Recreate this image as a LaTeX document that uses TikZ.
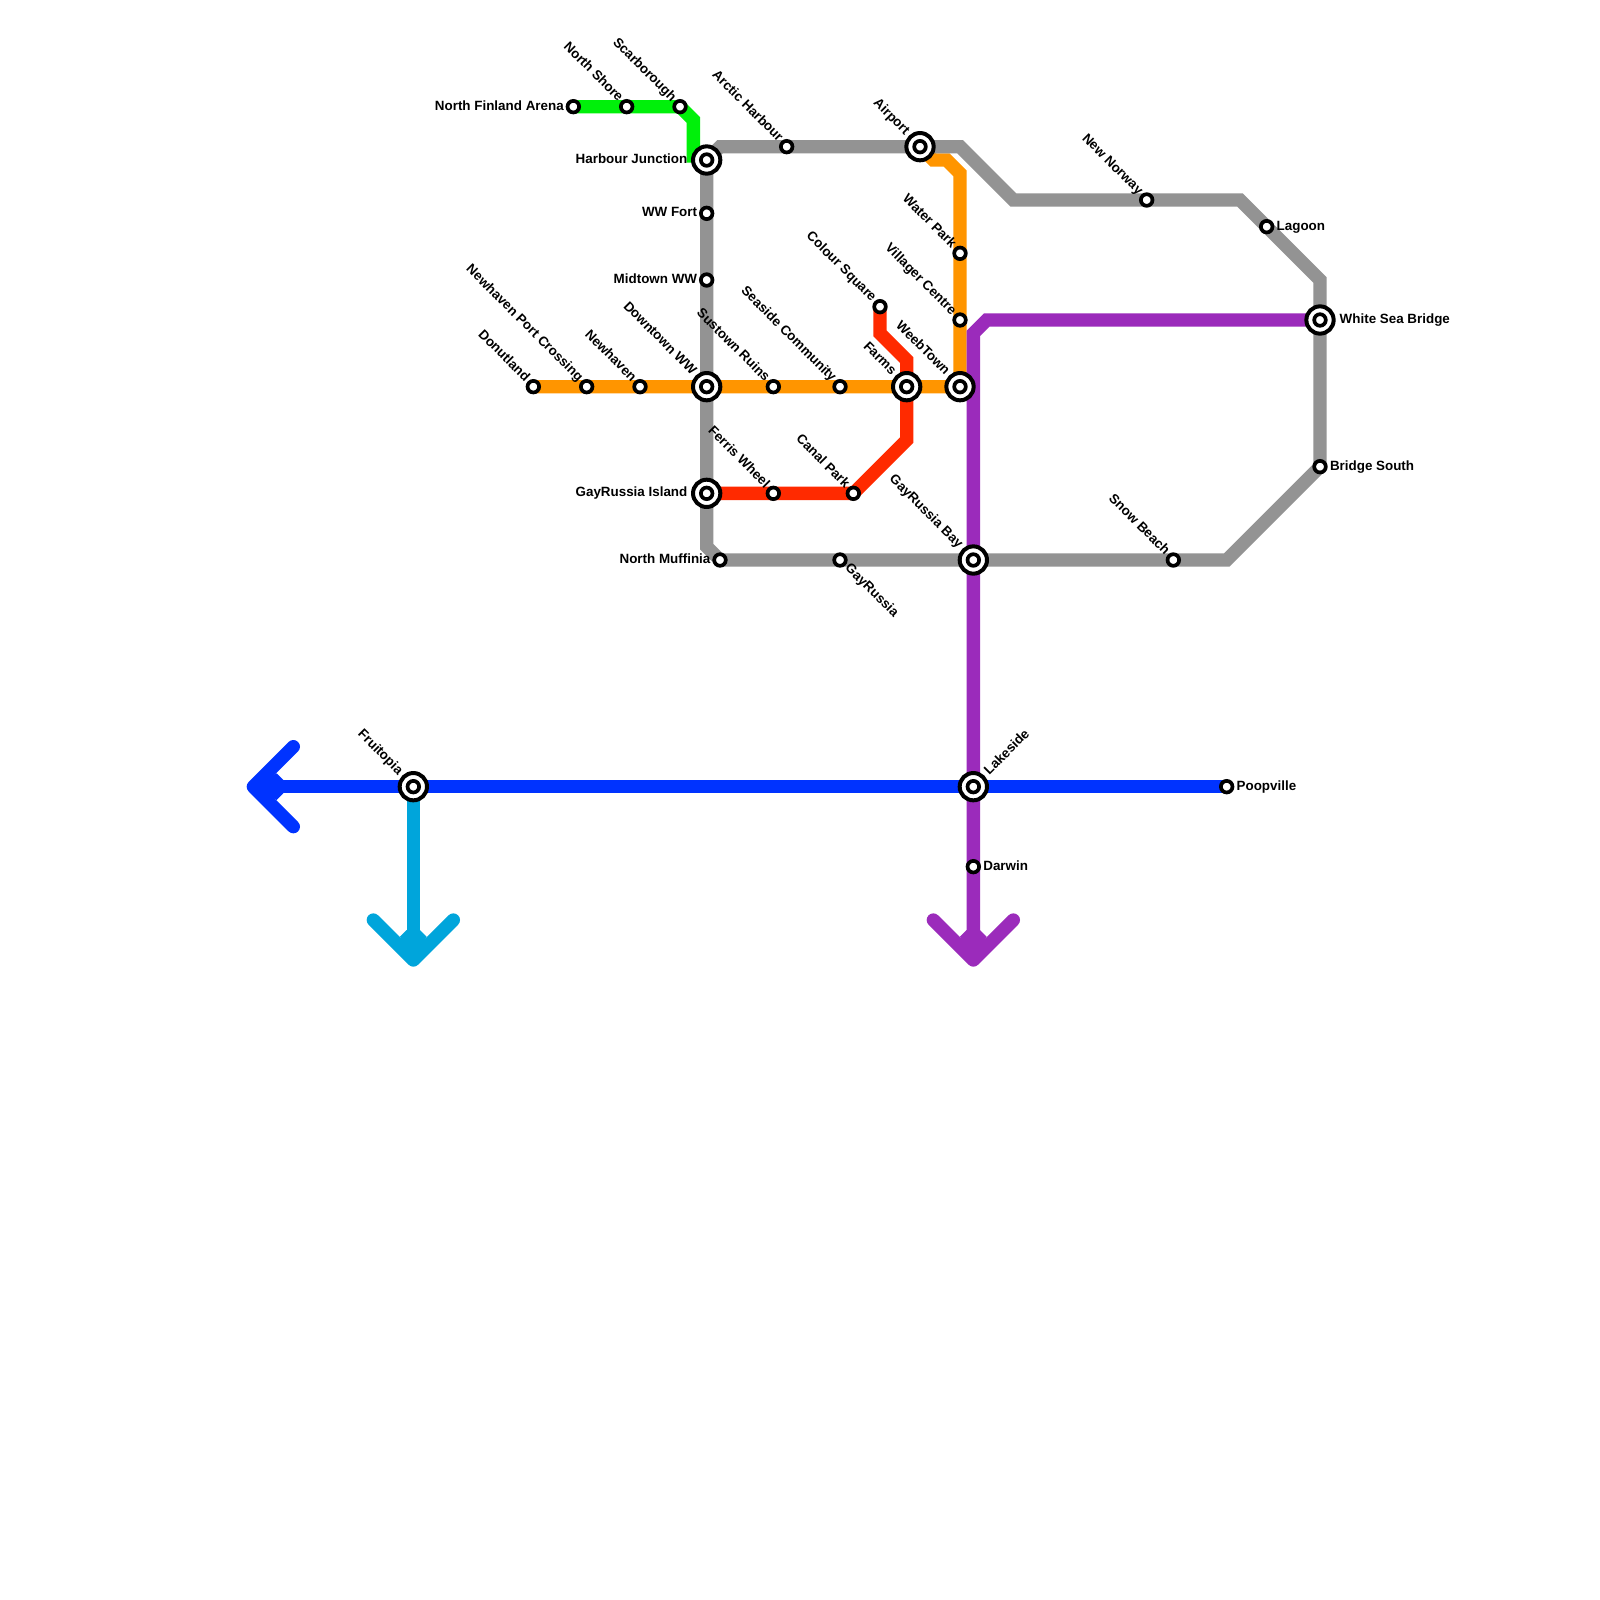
\documentclass[tikz,border=0pt]{standalone}
\usepackage{fontspec}
\newfontfamily\labfont{Liberation Sans Bold}
\definecolor{cgray}{HTML}{939393}
\definecolor{cgreen}{HTML}{00F00A}
\definecolor{corange}{HTML}{FF9500}
\definecolor{cred}{HTML}{FF2A00}
\definecolor{cpurple}{HTML}{9B2BBB}
\definecolor{cblue}{HTML}{0033FF}
\definecolor{ccyan}{HTML}{00A5DB}
\pgfdeclarelayer{bg}
\pgfsetlayers{bg,main}
\tikzset{
  x=13.3333pt,y=-13.3333pt,
  mline/.style={line width=13.33pt,line join=miter,line cap=butt},
  tipline/.style={line width=13.33pt,line join=round,line cap=round},
  smallst/.style={circle,draw=black,fill=white,line width=3.7pt,minimum size=11.6pt,inner sep=0pt,outer sep=0pt},
  bigst/.style={circle,draw=black,fill=white,line width=4pt,minimum size=27.3pt,inner sep=0pt,outer sep=0pt},
  lbl/.style={font=\labfont\fontsize{13.4}{15}\selectfont,inner sep=0pt,outer sep=0pt,text=black,text height=9pt,text depth=3pt},
  lleft/.style={lbl,anchor=east},
  lright/.style={lbl,anchor=west},
  lul/.style={lbl,anchor=east,rotate=-45},
  ldr/.style={lbl,anchor=west,rotate=-45},
  lur/.style={lbl,anchor=west,rotate=45},
}
\newcommand{\stS}[2]{\node[smallst] (#1) at (#2) {};}
\newcommand{\stB}[2]{\node[bigst] (#1) at (#2) {};\node[smallst] (#1-in) at (#2) {};}
\newcommand{\lab}[4]{\node[#2] (#1-l) at ([shift={(#3)}]#1.center) {#4};}
\begin{document}
\begin{tikzpicture}
\useasboundingbox (0,0) rectangle (120,120);
% stations
\stS{nfa}{43,8}\stS{nshore}{47,8}\stS{scar}{51,8}
\stB{harbour}{53,12}\stS{wwfort}{53,16}\stS{midtown}{53,21}
\stS{arctic}{59,11}\stB{airport}{69,11}
\stS{donut}{40,29}\stS{npc}{44,29}\stS{newhaven}{48,29}\stB{downtown}{53,29}
\stS{sustown}{58,29}\stS{seaside}{63,29}\stB{farms}{68,29}\stB{weeb}{72,29}
\stS{water}{72,19}\stS{villager}{72,24}\stS{colour}{66,23}
\stB{grisland}{53,37}\stS{ferris}{58,37}\stS{canal}{64,37}
\stS{muffinia}{54,42}\stS{gayrussia}{63,42}\stB{grbay}{73,42}\stS{snow}{88,42}
\stS{norway}{86,15}\stS{lagoon}{95,17}\stB{wsb}{99,24}\stS{bsouth}{99,35}
\stB{fruit}{31,59}\stB{lakeside}{73,59}\stS{poop}{92,59}\stS{darwin}{73,65}
\coordinate (bluetip) at (19,59);
\coordinate (cyantip) at (31,72);
\coordinate (purpletip) at (73,72);
% lines
\begin{pgfonlayer}{bg}
\fill[white] (0,0) rectangle (120,120);
\draw[mline,cgreen] (nfa.center) -- (scar.center) -- (52,9) -- (52,12.2);
\draw[mline,corange] (airport.center) -- (70,12) -- (71,12) -- (72,13) -- (weeb.center) -- (donut.center);
\draw[mline,cred] (colour.center) -- (66,25) -- (68,27) -- (68,33) -- (canal.center) -- (grisland.center);
\draw[mline,cgray] (harbour.center) -- (53,41) -- (muffinia.center) -- (92,42) -- (bsouth.center) -- (99,21) -- (93,15) -- (76,15) -- (72,11) -- (54,11) -- cycle;
\draw[mline,cpurple] (wsb.center) -- (74,24) -- (73,25) -- (purpletip);
\draw[mline,cblue] (poop.center) -- (bluetip);
\draw[mline,ccyan] (fruit.center) -- (cyantip);
\draw[tipline,cblue] (22,56) -- (bluetip) -- (22,62);
\fill[cblue] (21.25,58.5) -- (20.75,58) -- (19,59) -- (20.75,60) -- (21.25,59.5) -- cycle;
\draw[tipline,ccyan] (28,69) -- (cyantip) -- (34,69);
\fill[ccyan] (30.5,69.75) -- (30,70.25) -- (31,72) -- (32,70.25) -- (31.5,69.75) -- cycle;
\draw[tipline,cpurple] (70,69) -- (purpletip) -- (76,69);
\fill[cpurple] (72.5,69.75) -- (72,70.25) -- (73,72) -- (74,70.25) -- (73.5,69.75) -- cycle;
\end{pgfonlayer}
% labels
\lab{nfa}{lleft}{-.72,.03}{North Finland Arena}
\lab{nshore}{lul}{-.5,-.5}{North Shore}
\lab{scar}{lul}{-.5,-.5}{Scarborough}
\lab{harbour}{lleft}{-1.45,.03}{Harbour Junction}
\lab{wwfort}{lleft}{-.72,.03}{WW Fort}
\lab{midtown}{lleft}{-.72,.03}{Midtown WW}
\lab{arctic}{lul}{-.5,-.5}{Arctic Harbour}
\lab{airport}{lul}{-1,-1}{Airport}
\lab{donut}{lul}{-.5,-.5}{Donutland}
\lab{npc}{lul}{-.5,-.5}{Newhaven Port Crossing}
\lab{newhaven}{lul}{-.5,-.5}{Newhaven}
\lab{downtown}{lul}{-1,-1}{Downtown WW}
\lab{sustown}{lul}{-.5,-.5}{Sustown Ruins}
\lab{seaside}{lul}{-.5,-.5}{Seaside Community}
\lab{farms}{lul}{-1,-1}{Farms}
\lab{weeb}{lul}{-1,-1}{WeebTown}
\lab{water}{lul}{-.5,-.5}{Water Park}
\lab{villager}{lul}{-.5,-.5}{Villager Centre}
\lab{colour}{lul}{-.5,-.5}{Colour Square}
\lab{grisland}{lleft}{-1.45,.03}{GayRussia Island}
\lab{ferris}{lul}{-.5,-.5}{Ferris Wheel}
\lab{canal}{lul}{-.5,-.5}{Canal Park}
\lab{muffinia}{lleft}{-.72,.03}{North Muffinia}
\lab{gayrussia}{ldr}{.5,.5}{GayRussia}
\lab{grbay}{lul}{-1,-1}{GayRussia Bay}
\lab{snow}{lul}{-.5,-.5}{Snow Beach}
\lab{norway}{lul}{-.5,-.5}{New Norway}
\lab{lagoon}{lright}{.75,.03}{Lagoon}
\lab{wsb}{lright}{1.48,.03}{White Sea Bridge}
\lab{bsouth}{lright}{.75,.03}{Bridge South}
\lab{fruit}{lul}{-1,-1}{Fruitopia}
\lab{lakeside}{lur}{1.05,-1}{Lakeside}
\lab{poop}{lright}{.75,.03}{Poopville}
\lab{darwin}{lright}{.75,.03}{Darwin}
\end{tikzpicture}
\end{document}
